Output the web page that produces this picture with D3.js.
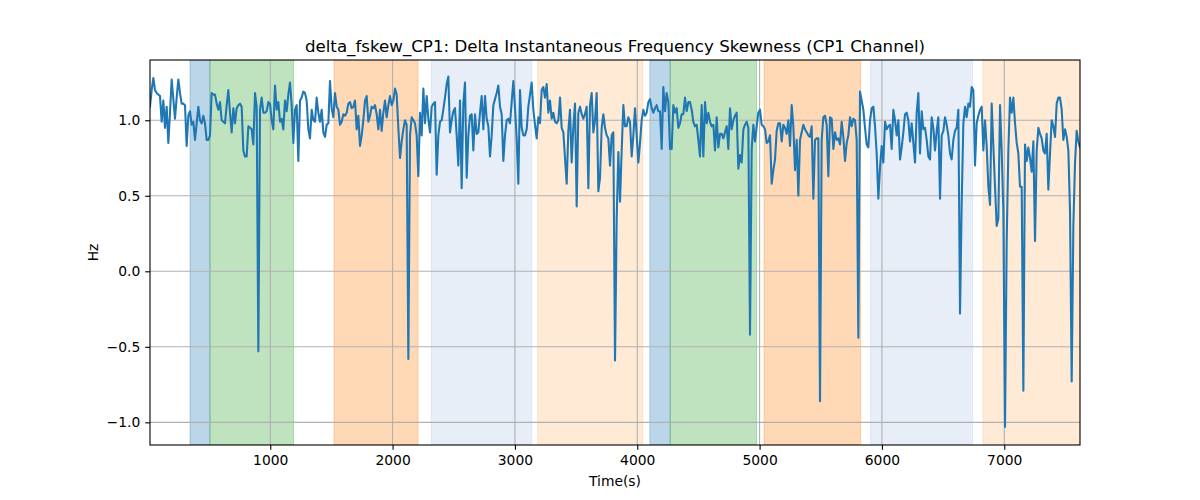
<!DOCTYPE html>
<html><head><meta charset="utf-8">
<script src="https://cdn.jsdelivr.net/npm/d3@7"></script>
<style>body{margin:0;background:#fff}svg text{font-family:"DejaVu Sans",sans-serif;fill:#000}</style>
</head><body>
<svg id="chart" width="1200" height="500"></svg>
<script>
const chartTitle = "delta_fskew_CP1: Delta Instantaneous Frequency Skewness (CP1 Channel)";
const xLabel = "Time(s)";
const yLabel = "Hz";
const timeStart = 17;
const timeStep = 13.624;
const values = [
1.09,1.20,1.28,1.20,1.18,1.17,1.16,0.99,1.13,0.95, 1.09,0.85,1.05,1.27,1.14,1.01,1.15,1.27,1.18,1.11, 1.11,1.10,0.83,1.03,1.06,0.97,0.99,0.87,0.98,1.09, 1.00,0.98,1.03,0.98,0.87,0.87,0.90,1.18,1.17,1.17, 1.11,1.07,1.12,1.00,0.99,0.98,1.10,1.20,1.05,0.92, 1.08,0.98,1.08,1.10,
1.11,1.09,0.80,0.76,0.76,0.96,0.95,0.94,0.84,1.18, 1.09,-0.53,1.07,1.15,1.05,1.05,1.06,1.12,1.11,1.00, 0.94,1.23,1.07,1.12,0.99,1.01,0.94,1.13,1.06,1.17, 1.25,1.10,0.85,1.07,1.10,0.73,1.13,1.15,1.19,1.18, 1.13,0.94,0.88,1.07,1.00,0.99,1.15,1.05,0.99,1.07, 0.92,0.89,0.97,0.98,
1.26,1.08,1.02,1.18,1.09,1.07,0.97,0.99,1.04,1.03, 1.05,1.11,1.12,1.08,1.09,1.13,0.94,1.03,0.83,0.90, 1.00,1.13,1.16,0.99,1.03,1.09,1.08,1.10,1.04,0.94, 1.07,0.93,1.05,1.13,1.02,1.10,1.16,1.10,1.13,1.21, 1.17,0.95,0.75,0.86,0.94,1.00,0.97,-0.58,0.90,1.02, 1.00,0.98,0.90,0.63,
1.05,0.90,1.21,0.98,1.16,1.01,0.92,1.09,1.11,1.12, 0.64,0.90,0.99,1.00,1.07,1.15,1.24,1.29,0.92,1.00, 1.06,1.08,0.90,0.70,1.13,0.55,1.11,1.25,0.62,0.90, 1.03,1.04,0.80,1.04,0.91,0.92,1.05,1.16,0.94,1.16, 1.01,0.96,0.76,0.90,1.10,1.14,1.18,1.23,1.09,1.04, 0.73,0.90,1.00,1.01,
0.98,1.12,1.26,1.08,0.88,0.58,1.20,0.95,0.90,0.90, 0.94,1.09,1.17,1.25,1.07,0.97,0.88,1.02,0.98,1.20, 1.22,1.15,1.24,1.05,1.13,1.01,1.05,0.99,0.98,1.00, 1.15,0.95,0.92,0.75,0.58,0.93,1.07,0.72,0.96,1.11, 0.43,1.05,1.09,1.04,1.01,1.04,1.09,0.55,1.10,1.18, 0.92,1.00,1.18,0.53,
0.62,0.95,1.04,0.95,0.90,0.88,0.70,0.90,0.92,-0.59, 0.35,0.79,0.46,0.80,1.10,0.96,0.96,1.02,0.99,0.76, 0.90,1.08,0.90,0.72,0.85,1.00,1.07,1.03,1.05,1.12, 1.14,1.08,1.05,1.08,1.10,1.06,1.06,0.81,1.22,1.06, 1.18,1.12,0.81,0.81,1.10,1.05,1.08,0.95,0.98,1.04, 1.04,1.15,1.06,1.12,
1.12,1.07,0.99,0.96,0.97,0.87,0.76,1.10,0.76,1.12, 0.98,1.05,0.99,0.96,0.97,0.80,1.02,0.82,0.91,0.91, 0.88,0.92,0.96,0.81,1.08,0.94,1.00,1.03,1.05,0.68, 0.77,0.72,0.94,0.97,0.99,0.95,-0.42,0.81,0.97,0.86, 0.96,1.05,1.07,0.97,0.96,0.94,0.85,0.86,0.90,0.58, 0.67,0.74,0.93,0.98,
0.98,0.86,0.97,0.95,0.91,1.00,0.83,1.10,0.96,0.67, 0.87,0.50,0.87,0.92,0.97,0.94,0.92,0.90,0.89,0.96, 0.48,0.87,0.88,0.88,-0.86,0.87,1.02,1.03,0.97,0.63, 1.02,1.01,0.81,0.92,0.87,0.88,0.84,0.99,0.89,0.73, 0.85,0.90,1.02,0.96,1.01,1.00,0.87,-0.44,1.19,1.13, 1.07,0.95,0.84,0.82,
1.00,1.08,1.09,0.96,0.78,0.48,0.69,0.83,0.72,0.99, 0.94,0.96,0.97,0.81,1.07,1.00,0.90,1.00,0.74,0.82, 0.92,1.04,1.05,1.00,0.86,0.98,0.85,0.72,1.05,1.18, 0.78,1.06,0.94,0.95,0.87,0.76,0.74,1.02,0.95,0.80, 0.93,1.02,0.48,0.90,0.93,1.02,0.97,0.90,0.78,0.74, 0.87,0.93,0.95,1.07,
-0.28,0.45,0.98,1.09,1.02,1.11,1.09,1.22,1.20,0.70, 0.98,1.03,1.07,1.09,0.80,1.00,0.83,0.56,0.44,1.11, 0.83,0.56,0.30,0.35,1.10,0.80,0.40,-1.03,0.20,0.80, 1.15,1.05,1.15,0.98,0.85,0.78,0.56,0.56,-0.79,0.84, 0.73,0.82,0.75,0.66,0.86,0.20,0.80,0.95,0.91,0.88, 0.80,0.78,0.91,0.54,
0.78,1.00,0.96,0.89,1.11,1.15,1.15,1.07,0.87,0.94, 0.89,0.80,0.40,-0.73,0.30,0.72,0.93,0.86,0.82
];
const spanStarts = [344, 507, 1521, 2316, 3186, 4103, 4269, 5036, 5907, 6826];
const spanEnds   = [507, 1191, 2208, 3137, 4044, 4269, 4976, 5826, 6741, 7619];
const spanColors = ["#1f77b4","#2ca02c","#ff7f0e","#aec7e8","#ffbb78","#1f77b4","#2ca02c","#ff7f0e","#aec7e8","#ffbb78"];
const xTicks = [1000, 2000, 3000, 4000, 5000, 6000, 7000];
const yTicks = [-1.0, -0.5, 0.0, 0.5, 1.0];
const xDomain = [17, 7619];
const yDomain = [-1.150, 1.399];

const L = 150, R = 1080, T = 60, B = 445;
const svg = d3.select("#chart");
const x = d3.scaleLinear().domain(xDomain).range([L, R]);
const y = d3.scaleLinear().domain(yDomain).range([B, T]);

const data = values.map((v, i) => ({t: timeStart + i * timeStep, v}));

svg.append("defs").append("clipPath").attr("id", "clip")
  .append("rect").attr("x", L).attr("y", T).attr("width", R - L).attr("height", B - T);

const plot = svg.append("g").attr("clip-path", "url(#clip)");

const spans = spanStarts.map((s, i) => ({s, e: spanEnds[i], c: spanColors[i]}));
plot.selectAll("rect.span").data(spans).enter().append("rect")
  .attr("class", "span")
  .attr("x", d => x(d.s)).attr("width", d => x(d.e) - x(d.s))
  .attr("y", T).attr("height", B - T)
  .attr("fill", d => d.c).attr("fill-opacity", 0.3)
  .attr("stroke", d => d.c).attr("stroke-opacity", 0.3).attr("stroke-width", 1);

// grid
plot.selectAll("line.gx").data(xTicks).enter().append("line")
  .attr("x1", d => x(d)).attr("x2", d => x(d)).attr("y1", T).attr("y2", B)
  .attr("stroke", "#b0b0b0").attr("stroke-width", 1.1);
plot.selectAll("line.gy").data(yTicks).enter().append("line")
  .attr("y1", d => y(d)).attr("y2", d => y(d)).attr("x1", L).attr("x2", R)
  .attr("stroke", "#b0b0b0").attr("stroke-width", 1.1);

const line = d3.line().x(d => x(d.t)).y(d => y(d.v));
plot.append("path").datum(data).attr("d", line)
  .attr("fill", "none").attr("stroke", "#1f77b4").attr("stroke-width", 2.08)
  .attr("stroke-linejoin", "round").attr("stroke-linecap", "square");

// frame
svg.append("rect").attr("x", L).attr("y", T).attr("width", R - L).attr("height", B - T)
  .attr("fill", "none").attr("stroke", "#000").attr("stroke-width", 1.1);

const fmt = d => d3.format(".1f")(d).replace("-", "\u2212");
const xAxis = svg.append("g").attr("transform", `translate(0,${B})`)
  .call(d3.axisBottom(x).tickValues(xTicks).tickFormat(d3.format("d")).tickSize(4.86).tickPadding(4.9).tickSizeOuter(0));
const yAxis = svg.append("g").attr("transform", `translate(${L},0)`)
  .call(d3.axisLeft(y).tickValues(yTicks).tickFormat(fmt).tickSize(4.86).tickPadding(4.9).tickSizeOuter(0));
[xAxis, yAxis].forEach(a => {
  a.select(".domain").remove();
  a.selectAll(".tick line").attr("stroke", "#000").attr("stroke-width", 1.1);
  a.selectAll(".tick text").style("font-family", "DejaVu Sans").style("font-size", "13.89px").attr("fill", "#000");
});

svg.append("text").attr("x", (L + R) / 2).attr("y", 52).attr("text-anchor", "middle")
  .style("font-size", "16.67px").text(chartTitle);
svg.append("text").attr("x", (L + R) / 2).attr("y", 485.5).attr("text-anchor", "middle")
  .style("font-size", "13.89px").text(xLabel);
svg.append("text").attr("transform", `translate(98,${(T + B) / 2}) rotate(-90)`).attr("text-anchor", "middle")
  .style("font-size", "13.89px").text(yLabel);
</script>
</body></html>
